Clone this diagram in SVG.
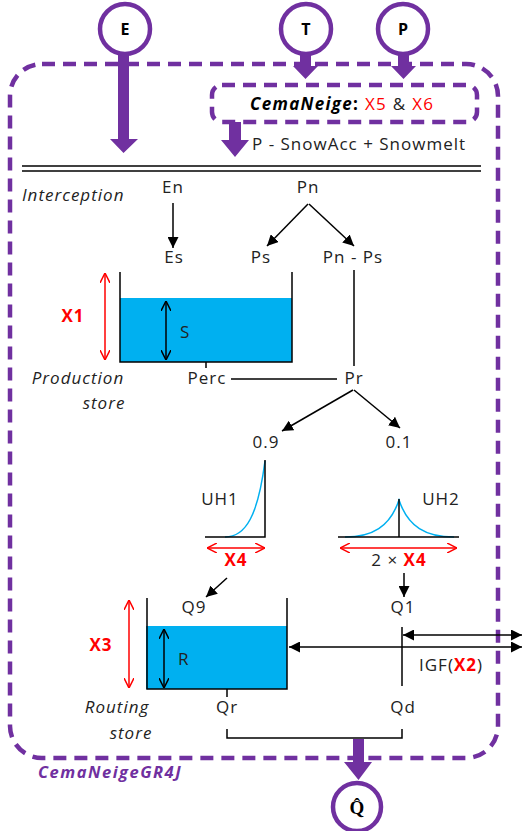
<svg xmlns="http://www.w3.org/2000/svg" width="523" height="831" viewBox="0 0 523 831">
<style>
text{font-family:"Open Sans","Liberation Sans",sans-serif;font-size:17px;fill:#222;letter-spacing:1px}
.m{text-anchor:middle}
.it{font-style:italic}
.red{fill:#ff0000;font-weight:bold}
.circ{fill:#fff;stroke:#7030a0;stroke-width:4.5}
.dash{fill:none;stroke:#7030a0;stroke-width:4.5;stroke-dasharray:13 8}
.pf{fill:#7030a0}
.ln{stroke:#000;stroke-width:1.5;fill:none}
.rl{stroke:#ff0000;stroke-width:1.5;fill:none}
.water{fill:#00b0f0}
.curve{stroke:#00b0f0;stroke-width:1.5;fill:none}
.ct{font-weight:bold;font-size:16px;fill:#000;text-anchor:middle;letter-spacing:0}
</style>
<defs>
<marker id="ah" viewBox="0 0 10 10" refX="10" refY="5" markerWidth="11" markerHeight="11" markerUnits="userSpaceOnUse" orient="auto-start-reverse"><path d="M0,0 L10,5 L0,10 z" fill="#000"/></marker>
<marker id="oh" viewBox="0 0 10 10" refX="10" refY="5" markerWidth="10" markerHeight="10" markerUnits="userSpaceOnUse" orient="auto-start-reverse"><path d="M0,0 L10,5 L0,10" fill="none" stroke="#000" stroke-width="1.5"/></marker>
<marker id="rh" viewBox="0 0 10 10" refX="10" refY="5" markerWidth="10" markerHeight="10" markerUnits="userSpaceOnUse" orient="auto-start-reverse"><path d="M0,0 L10,5 L0,10" fill="none" stroke="#ff0000" stroke-width="1.5"/></marker>
</defs>

<g id="model-box">
<rect class="dash" x="10" y="64" width="488" height="694" rx="32"/>
<text x="38" y="778" style="font-weight:bold;font-style:italic;fill:#7030a0;font-size:16.5px;letter-spacing:1.5px">CemaNeigeGR4J</text>
</g>

<g id="connectors">
<path class="pf" d="M118,52 H129 V139 H138 L123.5,153 L110,139 H118 Z"/>
<path class="pf" d="M300,52 H311 V66 H318 L305.5,79 L293,66 H300 Z"/>
<path class="pf" d="M398,52 H409 V66 H416 L403.5,79 L391,66 H398 Z"/>
<path class="pf" d="M229,122 H241 V140 H249 L235,157 L221,140 H229 Z"/>
<path class="pf" d="M353,739 H364 V762 H372 L358.5,780 L344,762 H353 Z"/>
<line x1="22" y1="166" x2="481" y2="166" stroke="#000" stroke-width="1.5"/>
<line x1="22" y1="171" x2="481" y2="171" stroke="#000" stroke-width="1.5"/>
<line class="ln" x1="173" y1="203" x2="173" y2="248" marker-end="url(#ah)"/>
<line class="ln" x1="308" y1="204" x2="267" y2="246" marker-end="url(#ah)"/>
<line class="ln" x1="309" y1="204" x2="354" y2="246" marker-end="url(#ah)"/>
<line class="ln" x1="354" y1="270" x2="354" y2="366"/>
<line class="ln" x1="206" y1="362" x2="206" y2="368"/>
<line class="ln" x1="231" y1="379" x2="337" y2="379"/>
<line class="ln" x1="353" y1="390" x2="282" y2="431" marker-end="url(#ah)"/>
<line class="ln" x1="354" y1="390" x2="400" y2="428" marker-end="url(#ah)"/>
<line class="ln" x1="227" y1="578" x2="206" y2="597" marker-end="url(#ah)"/>
<line class="ln" x1="404" y1="573" x2="404" y2="597" marker-end="url(#ah)"/>
<line class="ln" x1="402" y1="627" x2="402" y2="686"/>
<line class="ln" x1="403" y1="635" x2="522" y2="635" marker-start="url(#ah)" marker-end="url(#ah)"/>
<line class="ln" x1="289" y1="647" x2="522" y2="647" marker-start="url(#ah)" marker-end="url(#ah)"/>
<line class="ln" x1="227" y1="689" x2="227" y2="697"/>
<path class="ln" d="M227,729 V738 H402 V729"/>
</g>

<g id="input-E">
<circle class="circ" cx="125" cy="29" r="25"/>
<text class="ct" x="125" y="35">E</text>
</g>
<g id="input-T">
<circle class="circ" cx="306" cy="29" r="25"/>
<text class="ct" x="306" y="35">T</text>
</g>
<g id="input-P">
<circle class="circ" cx="403" cy="29" r="25"/>
<text class="ct" x="403" y="35">P</text>
</g>

<g id="cemaneige">
<rect class="dash" x="212" y="85" width="265" height="37" rx="10"/>
<text x="250" y="110" style="letter-spacing:1.3px"><tspan style="font-weight:bold;font-style:italic;fill:#000">CemaNeige</tspan><tspan style="font-weight:bold;fill:#000">: </tspan><tspan class="red" style="font-weight:normal">X5</tspan><tspan> &amp; </tspan><tspan class="red" style="font-weight:normal">X6</tspan></text>
<text x="252" y="150">P - SnowAcc + Snowmelt</text>
</g>

<g id="interception">
<text class="it" x="22" y="201">Interception</text>
<text class="m" x="173" y="193">En</text>
<text class="m" x="308" y="193">Pn</text>
<text class="m" x="174" y="263">Es</text>
<text class="m" x="261" y="263">Ps</text>
<text class="m" x="353" y="263">Pn - Ps</text>
</g>

<g id="production-store">
<rect class="water" x="120" y="298" width="172" height="64"/>
<path class="ln" d="M120,272 V362 H292 V272"/>
<line class="ln" x1="166" y1="301" x2="166" y2="360" marker-start="url(#oh)" marker-end="url(#oh)"/>
<text x="180" y="338">S</text>
<line class="rl" x1="105" y1="273" x2="105" y2="360" marker-start="url(#rh)" marker-end="url(#rh)"/>
<text class="red m" x="73" y="322">X1</text>
<text class="it m" x="78" y="384">Production</text>
<text class="it m" x="104" y="409">store</text>
<text class="m" x="207" y="384">Perc</text>
<text class="m" x="354" y="384">Pr</text>
</g>

<g id="split">
<text class="m" x="266" y="448">0.9</text>
<text class="m" x="399" y="448">0.1</text>
</g>

<g id="uh1">
<path class="curve" d="M225,537 C246,537 258,515 265,461"/>
<path class="ln" d="M205,537 H265 V460"/>
<text class="m" x="220" y="505">UH1</text>
<line class="rl" x1="207" y1="548" x2="265" y2="548" marker-start="url(#rh)" marker-end="url(#rh)"/>
<text class="red m" x="236" y="566">X4</text>
</g>

<g id="uh2">
<path class="curve" d="M345,537 C372,537 390,527 399,500 C408,527 426,537 454,537"/>
<line class="ln" x1="338" y1="537" x2="459" y2="537"/>
<line class="ln" x1="399" y1="499" x2="399" y2="537"/>
<text class="m" x="441" y="505">UH2</text>
<line class="rl" x1="340" y1="548" x2="457" y2="548" marker-start="url(#rh)" marker-end="url(#rh)"/>
<text class="m" x="399" y="566">2 × <tspan class="red">X4</tspan></text>
</g>

<g id="routing-store">
<rect class="water" x="146" y="626" width="141" height="63"/>
<path class="ln" d="M147,598 V689 H287 V598"/>
<line class="ln" x1="164" y1="629" x2="164" y2="688" marker-start="url(#oh)" marker-end="url(#oh)"/>
<text x="178" y="665">R</text>
<line class="rl" x1="129" y1="600" x2="129" y2="688" marker-start="url(#rh)" marker-end="url(#rh)"/>
<text class="red m" x="101" y="651">X3</text>
<text class="m" x="194" y="613">Q9</text>
<text class="m" x="403" y="613">Q1</text>
<text x="419" y="671">IGF(<tspan class="red">X2</tspan>)</text>
<text class="m" x="227" y="713">Qr</text>
<text class="m" x="403" y="713">Qd</text>
<text class="it m" x="117" y="713">Routing</text>
<text class="it m" x="131" y="739">store</text>
</g>

<g id="output-Q">
<circle class="circ" cx="357" cy="807" r="24"/>
<text x="357" y="814" style="font-family:'Liberation Serif',serif;font-weight:bold;font-size:19px;text-anchor:middle;fill:#000;letter-spacing:0">Q̂</text>
</g>
</svg>
